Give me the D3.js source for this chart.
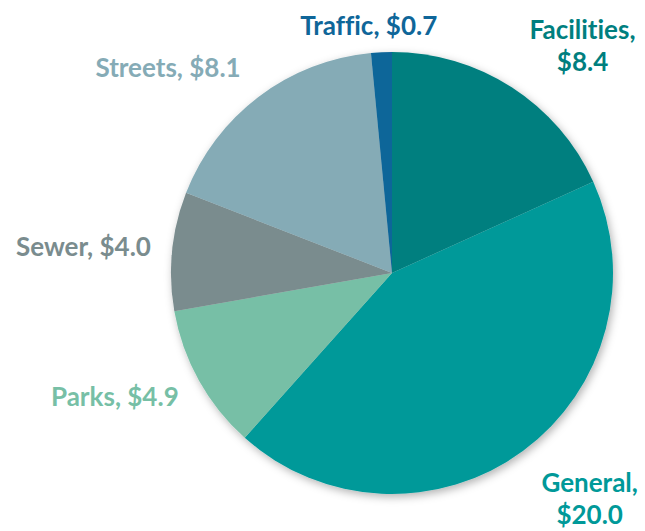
<!DOCTYPE html>
<html>
<head>
<meta charset="utf-8">
<script src="https://cdn.jsdelivr.net/npm/d3@7"></script>
<style>
  body { margin: 0; background: #fff; }
  text { font-family: Lato, "Open Sans", sans-serif; font-weight: bold; font-size: 26px; font-variant-ligatures: none; }
</style>
</head>
<body>
<script>
const width  = 645;
const height = 531;
const cx = 392, cy = 273, radius = 221;

// data, clockwise from 12 o'clock
const categories = ['Facilities', 'General', 'Parks', 'Sewer', 'Streets', 'Traffic'];
const values     = [8.4, 20.0, 4.9, 4.0, 8.1, 0.7];
const colors     = ['#007f7f', '#009999', '#77bfa6', '#7a8c8e', '#85abb6', '#0f6699'];

// label nudges from a ring centroid (layout only)
const labelNudge = [[28, 30], [20, -11], [-15, -22], [-10, 4], [-43, 34], [-9, 53]];
const twoLine    = [true, true, false, false, false, false];

const data = categories.map((c, i) => ({ name: c, value: values[i], i: i }));

const svg = d3.select('body').append('svg')
  .attr('width', width)
  .attr('height', height);

const defs = svg.append('defs');
const f = defs.append('filter').attr('id', 'shadow')
  .attr('x', '-20%').attr('y', '-20%').attr('width', '140%').attr('height', '140%');
f.append('feDropShadow')
  .attr('dx', 2).attr('dy', 3).attr('stdDeviation', 4)
  .attr('flood-color', '#000').attr('flood-opacity', 0.3);

const g = svg.append('g')
  .attr('transform', 'translate(' + cx + ',' + cy + ')');

const pie = d3.pie().sort(null).value(d => d.value);
const arc = d3.arc().innerRadius(0).outerRadius(radius);
const labelArc = d3.arc().innerRadius(300).outerRadius(300);

const arcs = pie(data);

g.append('g').attr('filter', 'url(#shadow)')
  .selectAll('path')
  .data(arcs)
  .enter().append('path')
  .attr('d', arc)
  .style('fill', d => colors[d.data.i]);

const labels = g.selectAll('.lbl')
  .data(arcs)
  .enter().append('text')
  .attr('class', 'lbl')
  .attr('text-anchor', 'middle')
  .style('fill', d => colors[d.data.i])
  .attr('transform', d => {
    const c = labelArc.centroid(d);
    const n = labelNudge[d.data.i];
    return 'translate(' + (c[0] + n[0]) + ',' + (c[1] + n[1]) + ')';
  });

labels.each(function(d) {
  const t = d3.select(this);
  const val = '$' + d.data.value.toFixed(1);
  if (twoLine[d.data.i]) {
    t.append('tspan').attr('x', 0).attr('y', -12).text(d.data.name + ',');
    t.append('tspan').attr('x', 0).attr('y', 20).text(val);
  } else {
    t.append('tspan').attr('x', 0).attr('y', 9).text(d.data.name + ', ' + val);
  }
});
</script>
</body>
</html>
